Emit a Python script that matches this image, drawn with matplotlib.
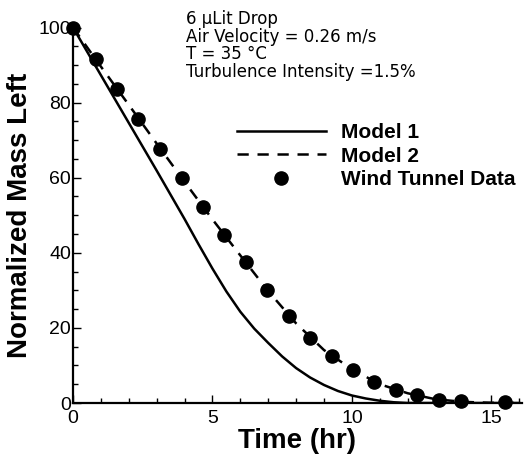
import matplotlib

matplotlib.use("Agg")
import matplotlib.pyplot as plt
from matplotlib.ticker import MultipleLocator

# model curves
model1_time = [0, 1, 2, 3, 4, 4.5, 5, 5.5, 6, 6.5, 7, 7.5, 8, 8.5, 9, 9.5, 10, 10.5, 11, 11.5, 12, 16]
model1_mass = [100, 87.3, 74.6, 61.9, 49.0, 42.3, 35.8, 29.7, 24.3, 19.8, 16.0, 12.4, 9.3, 6.8, 4.8, 3.2, 2.0, 1.2, 0.6, 0.2, 0, 0]

model2_time = [0, 1, 2, 3, 4, 5, 6, 7, 8, 9, 10, 11, 12, 13, 14, 15, 16]
model2_mass = [100, 89.6, 79.4, 69.1, 58.9, 48.9, 39.3, 29.8, 21.2, 14.1, 9.0, 5.0, 2.6, 1.0, 0.3, 0.05, 0]

# wind tunnel measurements
data_time = [0.0, 0.81, 1.57, 2.34, 3.13, 3.91, 4.67, 5.41, 6.19, 6.95, 7.73, 8.51, 9.27, 10.04, 10.81, 11.58, 12.34, 13.13, 13.9, 15.48]
data_mass = [100, 91.6, 83.6, 75.5, 67.7, 59.9, 52.3, 44.8, 37.5, 30.1, 23.2, 17.4, 12.5, 8.8, 5.7, 3.5, 2.1, 0.8, 0.4, 0.2]

notes = ["6 \u03bcLit Drop", "Air Velocity = 0.26 m/s", "T = 35 \u00b0C", "Turbulence Intensity =1.5%"]

W, H = 530, 458
fig = plt.figure(figsize=(W / 100, H / 100), dpi=100)
ax = fig.add_axes([73 / W, 55 / H, 449 / W, 375.5 / H])

ax.plot(model1_time, model1_mass, color="k", lw=1.8, label="Model 1")
ax.plot(model2_time, model2_mass, color="k", lw=1.8, ls=(0, (4.5, 3.5)), label="Model 2")
ax.plot(data_time, data_mass, "o", color="k", ms=9.5, clip_on=False, zorder=5,
        label="Wind Tunnel Data")

ax.set_xlim(0, 16.1)
ax.set_ylim(0, 100)
ax.xaxis.set_major_locator(MultipleLocator(5))
ax.xaxis.set_minor_locator(MultipleLocator(1))
ax.yaxis.set_major_locator(MultipleLocator(20))
ax.yaxis.set_minor_locator(MultipleLocator(5))

for s in ["top", "right"]:
    ax.spines[s].set_visible(False)
for s in ["left", "bottom"]:
    ax.spines[s].set_linewidth(1.6)

ax.tick_params(which="both", direction="in", width=1.0, labelsize=14)
ax.tick_params(which="major", length=6)
ax.tick_params(which="minor", length=3.3)
ax.tick_params(axis="x", pad=5)
ax.tick_params(axis="y", pad=1.5)
for lab in ax.get_xticklabels() + ax.get_yticklabels():
    lab.set_family("Liberation Sans")

ax.set_xlabel("Time (hr)", family="Liberation Sans", weight="bold", fontsize=20, labelpad=1)
ax.set_ylabel("Normalized Mass Left", family="Liberation Sans", weight="bold", fontsize=20,
              labelpad=4)

for i, line in enumerate(notes):
    fig.text(186 / W, 1 - (24 + 17.7 * i) / H, line, fontsize=12, family="DejaVu Sans",
             va="baseline", ha="left")

leg = ax.legend(loc="upper left", bbox_to_anchor=(236.7 / W, 1 - 123 / H),
                bbox_transform=fig.transFigure, frameon=False, numpoints=1,
                handlelength=4.3, handletextpad=0.7, labelspacing=0.22, borderpad=0,
                borderaxespad=0, prop={"family": "Liberation Sans", "weight": "bold", "size": 15})

fig.savefig("out.png", dpi=100)
